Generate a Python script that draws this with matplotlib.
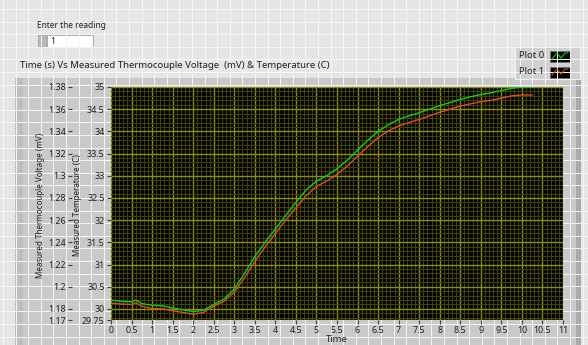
import numpy as np
import matplotlib.pyplot as plt
from matplotlib.patches import Rectangle
from matplotlib.ticker import MultipleLocator, FixedLocator, FormatStrFormatter

plt.rcParams['font.family'] = ['Noto Sans', 'DejaVu Sans']

# data (temperature in C, time in s)
time_s = [0, 0.25, 0.5, 0.6, 0.75, 1.0, 1.25, 1.5, 1.75, 2.0, 2.25, 2.5, 2.75,
          3.0, 3.25, 3.5, 3.75, 4.0, 4.25, 4.5, 4.75, 5.0, 5.25, 5.5, 5.75,
          6.0, 6.25, 6.5, 6.75, 7.0, 7.25, 7.5, 7.75, 8.0, 8.25, 8.5, 8.75,
          9.0, 9.25, 9.5, 9.75, 10.0, 10.25]
plot0_temp = [30.20, 30.17, 30.16, 30.20, 30.12, 30.08, 30.07, 30.02, 29.98,
              29.94, 29.97, 30.10, 30.22, 30.45, 30.80, 31.18, 31.50, 31.80,
              32.10, 32.40, 32.68, 32.88, 33.00, 33.16, 33.35, 33.58, 33.80,
              34.00, 34.15, 34.27, 34.35, 34.42, 34.50, 34.58, 34.65, 34.72,
              34.78, 34.83, 34.87, 34.92, 34.97, 35.00, 35.00]
plot1_temp = [30.13, 30.11, 30.10, 30.14, 30.06, 30.01, 30.00, 29.96, 29.92,
              29.88, 29.92, 30.06, 30.17, 30.38, 30.70, 31.07, 31.40, 31.70,
              32.00, 32.28, 32.55, 32.76, 32.88, 33.03, 33.22, 33.44, 33.66,
              33.86, 34.01, 34.12, 34.20, 34.27, 34.35, 34.43, 34.50, 34.57,
              34.62, 34.67, 34.70, 34.75, 34.80, 34.82, 34.82]
temp_ticks = [29.75, 30, 30.5, 31, 31.5, 32, 32.5, 33, 33.5, 34, 34.5, 35]
volt_ticks = [1.17, 1.18, 1.2, 1.22, 1.24, 1.26, 1.28, 1.3, 1.32, 1.34, 1.36, 1.38]
time_ticks = np.arange(0, 11.01, 0.5)


def t2v(t):
    return 1.18 + (np.asarray(t) - 30) * 0.04


def v2t(v):
    return 30 + (np.asarray(v) - 1.18) / 0.04


W, H = 588, 345
fig = plt.figure(figsize=(W / 100, H / 100), dpi=100)

# LabVIEW front panel background
bg = fig.add_axes([0, 0, 1, 1])
bg.set_xlim(0, W)
bg.set_ylim(H, 0)
bg.axis('off')
bg.add_patch(Rectangle((0, 0), W, H, fc='#e6e6e6', ec='none'))
for gx in np.arange(3, W, 12.6):
    bg.plot([gx, gx], [0, H], color='#f6f6f6', lw=0.7)
for gy in np.arange(9, H, 12.6):
    bg.plot([0, W], [gy, gy], color='#f6f6f6', lw=0.7)

# graph panel
bg.add_patch(Rectangle((15, 78), 566, 270, fc='#c9c9c9', ec='none'))
bg.add_patch(Rectangle((15, 78), 8, 270, fc='#bebebe', ec='none'))
bg.add_patch(Rectangle((576, 78), 5, 270, fc='#ababab', ec='none'))

# numeric control
bg.text(37, 26, 'Enter the reading', fontsize=6, color='#202020', va='center')
bg.add_patch(Rectangle((38, 35), 8, 12, fc='#b8b8b8', ec='#999999', lw=0.5))
bg.add_patch(Rectangle((47, 35), 46, 12, fc='white', ec='#a0a0a0', lw=0.6))
bg.text(50, 41, '1', fontsize=6.2, color='#202020', va='center')

bg.text(20, 65, 'Time (s) Vs Measured Thermocouple Voltage  (mV) & Temperature (C)',
        fontsize=6.9, color='#202020', va='center')

# plot legend
bg.add_patch(Rectangle((515, 47), 65, 32, fc='#d0d0d0', ec='#f2f2f2', lw=0.8))
for i, (name, col) in enumerate([('Plot 0', '#00d000'), ('Plot 1', '#d04a20')]):
    yc = 56 + 16 * i
    bg.text(519, yc, name, fontsize=6.8, color='#202020', va='center')
    bg.add_patch(Rectangle((550, yc - 5), 20, 11, fc='black', ec='#777777', lw=0.5))
    bg.plot([552, 557, 561, 565, 568], [yc + 3, yc - 3, yc + 2, yc - 3, yc - 3], color=col, lw=0.8)

# axis labels
bg.text(41, 205, 'Measured Thermocouple Voltage (mV)', rotation=90, fontsize=5.8,
        color='#202020', ha='center', va='center')
bg.text(77, 205, 'Measured Temperature (C)', rotation=90, fontsize=5.8,
        color='#202020', ha='center', va='center')
bg.text(337, 340, 'Time', fontsize=6.8, color='#202020', ha='center', va='center')

# plot area
ax = fig.add_axes([111 / W, (H - 320) / H, 452 / W, 233 / H])
ax.set_facecolor('black')
ax.set_xlim(0, 11)
ax.set_ylim(29.75, 35)
ax.xaxis.set_minor_locator(MultipleLocator(0.1))
ax.yaxis.set_minor_locator(MultipleLocator(0.1))
ax.grid(which='minor', color='#424200', lw=0.8)
ax.grid(which='major', color='#8f8f00', lw=1.0)
ax.set_axisbelow(True)
ax.plot(time_s, plot0_temp, color='#10d010', lw=1.0)
ax.plot(time_s, plot1_temp, color='#d8502a', lw=1.0)

ax.set_xticks(time_ticks)
ax.xaxis.set_major_formatter(FormatStrFormatter('%g'))
ax.set_yticks(temp_ticks)
ax.yaxis.set_major_formatter(FormatStrFormatter('%g'))
ax.tick_params(which='minor', length=0)
ax.tick_params(which='major', length=3, width=0.8, color='#404040', labelsize=6.4,
               labelcolor='#202020', pad=1.5)
for s in ax.spines.values():
    s.set_visible(False)

sec = ax.secondary_yaxis(-0.086, functions=(t2v, v2t))
sec.set_yticks(volt_ticks)
sec.yaxis.set_major_formatter(FormatStrFormatter('%g'))
sec.tick_params(length=3, width=0.8, color='#404040', labelsize=6.4,
                labelcolor='#202020', pad=1.5)
sec.spines['left'].set_visible(False)
sec.yaxis.set_minor_locator(FixedLocator([]))

fig.savefig('out.png', dpi=100)
